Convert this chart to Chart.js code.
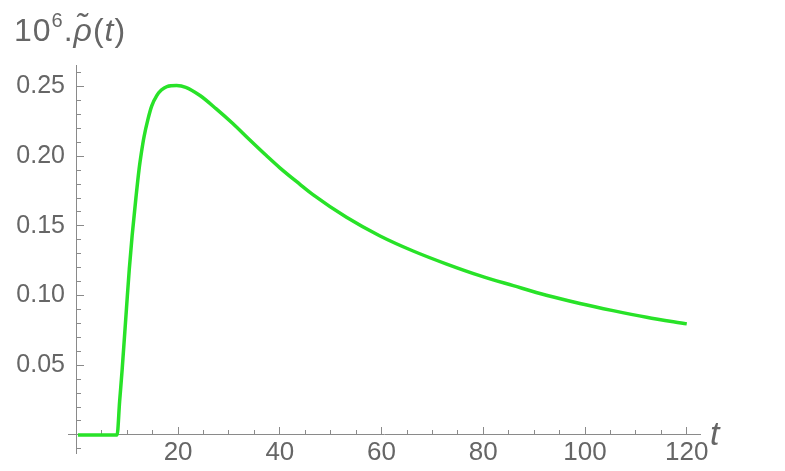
<!DOCTYPE html>
<html><head><meta charset="utf-8">
<script src="https://cdn.jsdelivr.net/npm/chart.js@4.4.1/dist/chart.umd.min.js"></script>
<style>
html,body{margin:0;padding:0;background:#fff;}
#wrap{position:relative;width:785px;height:471px;overflow:hidden;}
canvas{position:absolute;left:0;top:0;}
.lbl{position:absolute;font-family:"Liberation Sans",Arial,sans-serif;color:#666;white-space:nowrap;line-height:1;}
</style></head><body>
<div id="wrap">
<canvas id="c" width="785" height="471"></canvas>
<div class="lbl" style="left:14px;top:14px;font-size:32px;letter-spacing:1px;">10<span style="font-size:20px;position:relative;top:-14px;">6</span>.<i>ρ̃</i>(<i>t</i>)</div>
<div class="lbl" style="left:710px;top:416px;font-size:34px;"><i>t</i></div>
</div>
<script>
// ---- data ----
const tValues   = [0.3, 8.0, 8.5, 9.0, 9.85, 10.4, 10.96, 11.7, 12.3, 12.8, 13.3, 14.1, 14.8, 15.8, 16.7, 17.8, 19.7, 21.5, 24.3, 27.5, 30.8, 34.0, 37.4, 40.0, 43.9, 46.5, 53.1, 59.7, 66.2, 72.8, 79.3, 85.9, 92.4, 99.0, 105.5, 112.1, 120.0];
const rhoValues = [0, 0, 0.024, 0.047, 0.091, 0.119, 0.143, 0.170, 0.190, 0.203, 0.214, 0.227, 0.236, 0.2435, 0.2475, 0.250, 0.2507, 0.2495, 0.2436, 0.234, 0.2233, 0.212, 0.2003, 0.1917, 0.180, 0.1725, 0.1562, 0.1428, 0.132, 0.1226, 0.1143, 0.1071, 0.1002, 0.0943, 0.0892, 0.0845, 0.0797];

// ---- axes ----
const xMajorTicks = [20, 40, 60, 80, 100, 120];
const xMinorTicks = [5, 10, 15, 20, 25, 30, 35, 40, 45, 50, 55, 60, 65, 70, 75, 80, 85, 90, 95, 100, 105, 110, 115, 120];
const yMajorTicks = [0.05, 0.10, 0.15, 0.20, 0.25];
const yMinorTicks = [-0.01, 0.01, 0.02, 0.03, 0.04, 0.05, 0.06, 0.07, 0.08, 0.09, 0.10, 0.11, 0.12, 0.13, 0.14, 0.15, 0.16, 0.17, 0.18, 0.19, 0.20, 0.21, 0.22, 0.23, 0.24, 0.25, 0.26];
const xMin = -1.65, xMax = 122.6;
const yMin = -0.013, yMax = 0.2655;

const AXIS = '#8a8a8a';
const TEXT = '#666666';
const FONT = '"Liberation Sans", Arial, sans-serif';

const setTicks = arr => scale => { scale.ticks = arr.map(v => ({value: v})); };

new Chart(document.getElementById('c'), {
  type: 'line',
  data: {
    datasets: [{
      data: tValues.map((t, i) => ({x: t, y: rhoValues[i]})),
      borderColor: '#28e228',
      borderWidth: 3.5,
      pointRadius: 0,
      cubicInterpolationMode: 'monotone',
      fill: false,
      xAxisID: 'x',
      yAxisID: 'y'
    }]
  },
  options: {
    responsive: false,
    animation: false,
    events: [],
    layout: {padding: {left: 0, right: 85, top: 65, bottom: 16}},
    plugins: {legend: {display: false}, tooltip: {enabled: false}, title: {display: false}},
    scales: {
      x: {
        type: 'linear', position: {y: 0}, min: xMin, max: xMax, bounds: 'data',
        afterBuildTicks: setTicks(xMajorTicks),
        grid: {display: true, drawOnChartArea: false, drawTicks: true, tickLength: -8, color: AXIS, lineWidth: 1},
        border: {display: true, color: AXIS, width: 1},
        ticks: {autoSkip: false, maxRotation: 0, padding: 10, color: TEXT, font: {family: FONT, size: 26},
                callback: v => String(v)}
      },
      xMinor: {
        type: 'linear', position: {y: 0}, min: xMin, max: xMax, bounds: 'data',
        afterBuildTicks: setTicks(xMinorTicks),
        grid: {display: true, drawOnChartArea: false, drawTicks: true, tickLength: -5, color: AXIS, lineWidth: 1},
        border: {display: false},
        ticks: {autoSkip: false, display: false}
      },
      y: {
        type: 'linear', position: {x: 0}, min: yMin, max: yMax, bounds: 'data',
        afterBuildTicks: setTicks(yMajorTicks),
        grid: {display: true, drawOnChartArea: false, drawTicks: true, tickLength: -8, color: AXIS, lineWidth: 1},
        border: {display: true, color: AXIS, width: 1},
        ticks: {autoSkip: false, display: false}
      },
      yMinor: {
        type: 'linear', position: {x: 0}, min: yMin, max: yMax, bounds: 'data',
        afterBuildTicks: setTicks(yMinorTicks),
        grid: {display: true, drawOnChartArea: false, drawTicks: true, tickLength: -5, color: AXIS, lineWidth: 1},
        border: {display: false},
        ticks: {autoSkip: false, display: false}
      },
      yLabels: {
        type: 'linear', position: 'left', min: yMin, max: yMax, bounds: 'data',
        afterBuildTicks: setTicks(yMajorTicks),
        afterFit: s => { s.width = 68; },
        grid: {display: false, drawTicks: false},
        border: {display: false},
        ticks: {autoSkip: false, padding: 3, color: TEXT, font: {family: FONT, size: 25},
                callback: v => Number(v).toFixed(2)}
      }
    }
  }
});
</script>
</body></html>
